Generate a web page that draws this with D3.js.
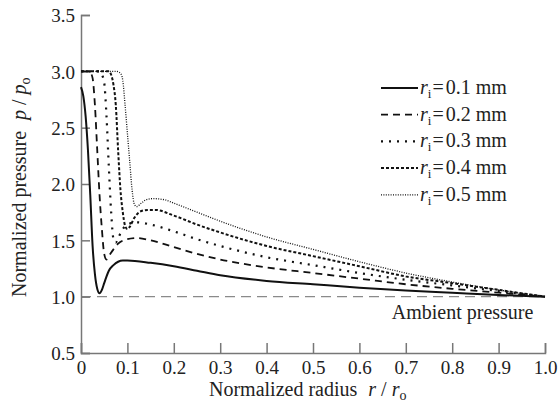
<!DOCTYPE html>
<html>
<head>
<meta charset="utf-8">
<script src="https://cdn.jsdelivr.net/npm/d3@7"></script>
<style>
  body { margin: 0; background: #fff; }
</style>
</head>
<body>
<div class="chart"></div>
<script>
const width = 559, height = 407;
const margin = { left: 81, top: 15, right: 14, bottom: 54 };
const serif = '"Liberation Serif", "Times New Roman", Tinos, serif';

// radius r/ro and pressure p/po for each inlet radius
const x01 = [0, 0.005, 0.01, 0.015, 0.02, 0.025, 0.03, 0.035, 0.04, 0.045, 0.05, 0.06, 0.07, 0.08, 0.09, 0.1, 0.15, 0.2, 0.25, 0.3, 0.4, 0.5, 0.6, 0.7, 0.8, 0.9, 1.0];
const p01 = [2.86, 2.78, 2.6, 2.3, 1.9, 1.45, 1.2, 1.07, 1.03, 1.06, 1.12, 1.23, 1.28, 1.31, 1.32, 1.32, 1.3, 1.27, 1.23, 1.19, 1.14, 1.11, 1.08, 1.055, 1.035, 1.015, 1.0];

const x02 = [0, 0.015, 0.02, 0.025, 0.03, 0.035, 0.04, 0.045, 0.05, 0.055, 0.06, 0.07, 0.08, 0.1, 0.12, 0.15, 0.2, 0.25, 0.3, 0.4, 0.5, 0.6, 0.7, 0.8, 0.9, 1.0];
const p02 = [3.0, 3.0, 2.99, 2.94, 2.7, 2.3, 1.9, 1.6, 1.38, 1.33, 1.36, 1.42, 1.47, 1.51, 1.52, 1.5, 1.44, 1.38, 1.33, 1.26, 1.21, 1.16, 1.11, 1.07, 1.035, 1.0];

const x03 = [0, 0.04, 0.045, 0.05, 0.055, 0.06, 0.065, 0.07, 0.075, 0.08, 0.09, 0.1, 0.12, 0.15, 0.2, 0.25, 0.3, 0.4, 0.5, 0.6, 0.7, 0.8, 0.9, 1.0];
const p03 = [3.0, 3.0, 2.97, 2.9, 2.6, 2.15, 1.75, 1.51, 1.48, 1.52, 1.6, 1.64, 1.66, 1.64, 1.58, 1.51, 1.45, 1.35, 1.28, 1.21, 1.15, 1.1, 1.05, 1.0];

const x04 = [0, 0.06, 0.065, 0.07, 0.075, 0.08, 0.085, 0.09, 0.095, 0.1, 0.105, 0.115, 0.13, 0.145, 0.16, 0.2, 0.25, 0.3, 0.4, 0.5, 0.6, 0.7, 0.8, 0.9, 1.0];
const p04 = [3.0, 3.0, 2.97, 2.88, 2.7, 2.3, 1.95, 1.75, 1.63, 1.6, 1.62, 1.7, 1.76, 1.77, 1.77, 1.72, 1.64, 1.57, 1.45, 1.36, 1.27, 1.18, 1.12, 1.06, 1.0];

const x05 = [0, 0.075, 0.083, 0.088, 0.09, 0.095, 0.1, 0.105, 0.11, 0.115, 0.12, 0.13, 0.14, 0.155, 0.18, 0.2, 0.25, 0.3, 0.4, 0.5, 0.6, 0.7, 0.8, 0.9, 1.0];
const p05 = [3.0, 3.0, 2.99, 2.96, 2.92, 2.7, 2.45, 2.2, 1.95, 1.82, 1.8, 1.83, 1.86, 1.87, 1.86, 1.83, 1.75, 1.67, 1.53, 1.42, 1.31, 1.21, 1.13, 1.06, 1.0];

const radiiLabels = ["0.1", "0.2", "0.3", "0.4", "0.5"];
const xTicks = [0, 0.1, 0.2, 0.3, 0.4, 0.5, 0.6, 0.7, 0.8, 0.9, 1.0];
const yTicks = [0.5, 1.0, 1.5, 2.0, 2.5, 3.0, 3.5];
const ambient = 1.0;

const seriesX = [x01, x02, x03, x04, x05];
const seriesP = [p01, p02, p03, p04, p05];
const dashes = ["none", "7,5", "2,6", "3,2", "1,1.4"];
const widths = [2, 1.8, 2.2, 2, 1.3];

const svg = d3.select(".chart").append("svg")
  .attr("width", width)
  .attr("height", height);

const x = d3.scaleLinear().domain([0, 1]).range([margin.left, width - margin.right]);
const y = d3.scaleLinear().domain([0.5, 3.5]).range([height - margin.bottom, margin.top]);

// ambient pressure reference
svg.append("line")
  .attr("x1", x(0)).attr("x2", x(1))
  .attr("y1", y(ambient)).attr("y2", y(ambient))
  .attr("stroke", "#8a8a8a")
  .attr("stroke-width", 1.4)
  .attr("stroke-dasharray", "10,6");

svg.append("text")
  .attr("x", x(0.975))
  .attr("y", y(ambient) + 22)
  .attr("text-anchor", "end")
  .style("font-family", serif)
  .style("font-size", "20px")
  .attr("fill", "#222")
  .text("Ambient pressure");

// axes
const xAxis = svg.append("g")
  .attr("transform", `translate(0,${y(0.5)})`)
  .call(d3.axisBottom(x).tickValues(xTicks).tickSize(-10).tickPadding(5)
    .tickFormat(d => d === 0 ? "0" : d3.format(".1f")(d)));
const yAxis = svg.append("g")
  .attr("transform", `translate(${x(0)},0)`)
  .call(d3.axisLeft(y).tickValues(yTicks).tickSize(-9).tickPadding(6)
    .tickFormat(d3.format(".1f")));

[xAxis, yAxis].forEach(g => {
  g.select(".domain").attr("stroke", "#777").attr("stroke-width", 1.5);
  g.selectAll(".tick line").attr("stroke", "#777").attr("stroke-width", 1.5);
  g.selectAll(".tick text")
    .style("font-family", serif)
    .style("font-size", "19px")
    .attr("fill", "#222");
});
xAxis.selectAll(".tick text").attr("dy", "0.85em");
yAxis.selectAll(".tick text").attr("dy", "0.36em");

// curves
const line = d3.line()
  .x(d => x(d[0]))
  .y(d => y(d[1]))
  .curve(d3.curveMonotoneX);

seriesX.forEach((xs, i) => {
  const pts = xs.map((v, j) => [v, seriesP[i][j]]);
  svg.append("path")
    .datum(pts)
    .attr("d", line)
    .attr("fill", "none")
    .attr("stroke", "#111")
    .attr("stroke-width", widths[i])
    .attr("stroke-dasharray", dashes[i]);
});

// legend
const legend = svg.append("g");
radiiLabels.forEach((lab, i) => {
  const ly = 88 + i * 26.7;
  legend.append("line")
    .attr("x1", 381).attr("x2", 418)
    .attr("y1", ly).attr("y2", ly)
    .attr("stroke", "#111")
    .attr("stroke-width", widths[i])
    .attr("stroke-dasharray", dashes[i]);
  const t = legend.append("text")
    .attr("x", 420)
    .attr("y", ly + 6)
    .attr("fill", "#222")
    .style("font-family", serif)
    .style("font-size", "20px");
  t.append("tspan").style("font-style", "italic").text("r");
  t.append("tspan").style("font-size", "13px").attr("dy", 4).text("i");
  t.append("tspan").attr("dy", -4).attr("dx", 1).text("=");
  t.append("tspan").attr("dx", 2).text(lab + " mm");
});

// axis titles
const xt = svg.append("text")
  .attr("x", 209)
  .attr("y", 396)
  .attr("fill", "#222")
  .style("font-family", serif)
  .style("font-size", "20px");
xt.append("tspan").text("Normalized radius");
xt.append("tspan").attr("dx", 11).style("font-style", "italic").text("r");
xt.append("tspan").attr("dx", 5).text("/");
xt.append("tspan").attr("dx", 5).style("font-style", "italic").text("r");
xt.append("tspan").style("font-size", "14px").attr("dy", 4).text("o");

const yt = svg.append("text")
  .attr("transform", "translate(26,297) rotate(-90)")
  .attr("fill", "#222")
  .style("font-family", serif)
  .style("font-size", "20px");
yt.append("tspan").text("Normalized pressure");
yt.append("tspan").attr("dx", 11).style("font-style", "italic").text("p");
yt.append("tspan").attr("dx", 5).text("/");
yt.append("tspan").attr("dx", 5).style("font-style", "italic").text("p");
yt.append("tspan").style("font-size", "14px").attr("dy", 4).text("o");
</script>
</body>
</html>
